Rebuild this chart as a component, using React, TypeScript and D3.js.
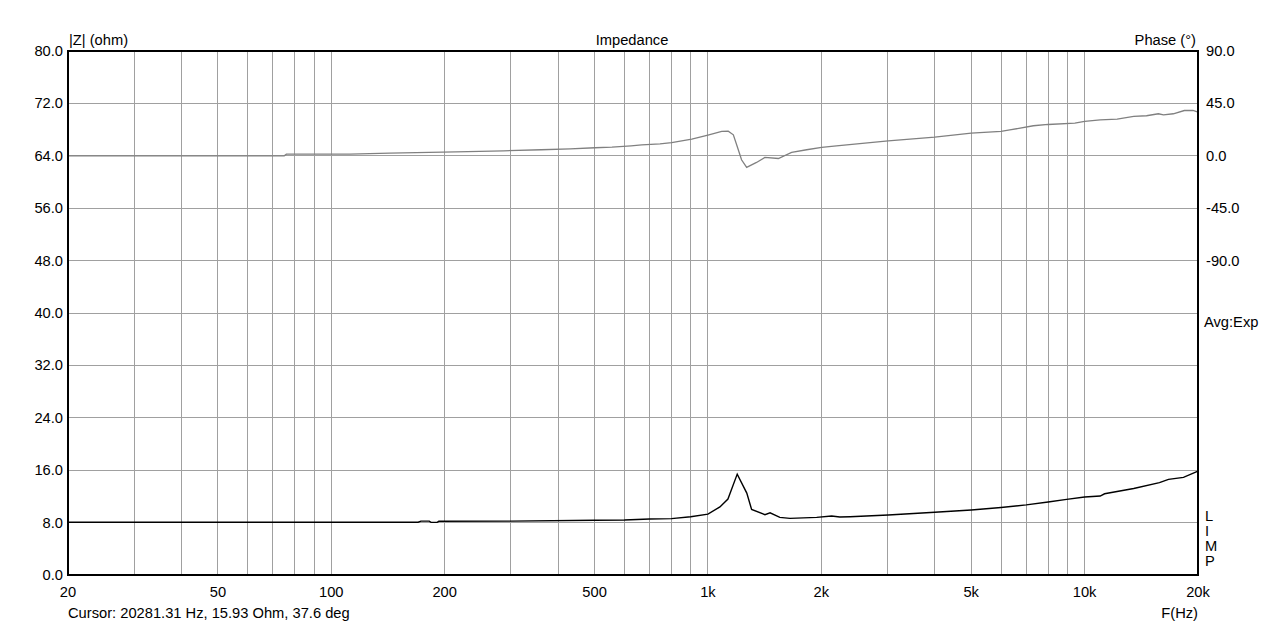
import React from "react";
import * as d3 from "d3";

const impFreq = [20, 50, 100, 150, 170, 173, 182, 184, 191, 193, 300, 500, 600, 700, 800, 900, 1000, 1076, 1130, 1196, 1268, 1306, 1417, 1462, 1552, 1651, 1944, 2130, 2240, 2383, 3010, 4000, 5000, 6000, 7000, 8000, 8960, 10000, 11000, 11300, 13500, 15800, 16700, 18300, 20000];
const impOhm = [8.05, 8.05, 8.05, 8.05, 8.05, 8.22, 8.22, 8.04, 8.04, 8.2, 8.22, 8.35, 8.4, 8.55, 8.6, 8.9, 9.3, 10.4, 11.6, 15.4, 12.5, 10.0, 9.2, 9.5, 8.8, 8.65, 8.8, 9.0, 8.85, 8.9, 9.16, 9.57, 9.92, 10.3, 10.7, 11.15, 11.55, 11.9, 12.06, 12.4, 13.2, 14.1, 14.6, 14.9, 15.85];

const phFreq = [20, 75, 76, 112, 143, 214, 287, 361, 431, 501, 556, 625, 667, 746, 801, 906, 1000, 1088, 1132, 1168, 1196, 1228, 1267, 1346, 1416, 1538, 1668, 1828, 2004, 2194, 3010, 4000, 5000, 6000, 6330, 7310, 8000, 9420, 10000, 11000, 12200, 13500, 14600, 15700, 16200, 17200, 18400, 19400, 20000];
const phDeg = [0, 0, 1.4, 1.4, 2.3, 3.4, 4.3, 5.2, 6.0, 6.9, 7.5, 8.6, 9.4, 10.3, 11.4, 14.3, 17.8, 20.9, 21.2, 18.0, 8.0, -3.4, -10.0, -5.7, -1.4, -2.3, 2.9, 5.2, 7.2, 8.6, 12.9, 16.0, 19.5, 20.9, 22.2, 25.8, 26.9, 28.1, 29.5, 30.9, 31.5, 33.8, 34.4, 36.1, 35.2, 36.1, 38.9, 38.9, 37.6];

const gridFreqs = [20, 30, 40, 50, 60, 70, 80, 90, 100, 200, 300, 400, 500, 600, 700, 800, 900, 1000, 2000, 3000, 4000, 5000, 6000, 7000, 8000, 9000, 10000, 20000];
const xTickVals = [20, 50, 100, 200, 500, 1000, 2000, 5000, 10000, 20000];
const xTickLabels = ["20", "50", "100", "200", "500", "1k", "2k", "5k", "10k", "20k"];
const zTicks = [0, 8, 16, 24, 32, 40, 48, 56, 64, 72, 80];
const phTicks = [90, 45, 0, -45, -90];

const W = 1266, H = 626;
const L = 68, R = 1198, T = 51, B = 575;
const FONT = "'Liberation Sans', Arial, sans-serif";
const FS = 14.7;

export default function App() {
  const x = d3.scaleLog().domain([20, 20000]).range([L, R]);
  const yZ = d3.scaleLinear().domain([0, 80]).range([B, T]);
  const yP = d3.scaleLinear().domain([-360, 90]).range([B, T]);

  const impLine = d3.line<number>().x((d, i) => x(impFreq[i])).y((d) => yZ(d))(impOhm) || "";
  const phLine = d3.line<number>().x((d, i) => x(phFreq[i])).y((d) => yP(d))(phDeg) || "";

  const limp = ["L", "I", "M", "P"];

  return (
    <svg width={W} height={H} style={{ position: "absolute", left: 0, top: 0, background: "#fff" }} fontFamily={FONT}>
      <rect x={0} y={0} width={W} height={H} fill="#fff" />
      {gridFreqs.map((f) => (
        <line key={"v" + f} x1={x(f)} x2={x(f)} y1={T} y2={B} stroke="#a0a0a0" strokeWidth={1} shapeRendering="crispEdges" />
      ))}
      {zTicks.map((z) => (
        <line key={"h" + z} x1={L} x2={R} y1={yZ(z)} y2={yZ(z)} stroke="#a0a0a0" strokeWidth={1} shapeRendering="crispEdges" />
      ))}
      <path d={phLine} fill="none" stroke="#808080" strokeWidth={1.3} />
      <path d={impLine} fill="none" stroke="#000" strokeWidth={1.4} />
      <rect x={L} y={T} width={R - L} height={B - T} fill="none" stroke="#000" strokeWidth={1.5} shapeRendering="crispEdges" />
      {zTicks.map((z) => (
        <text key={"zt" + z} x={63} y={yZ(z) + 5} textAnchor="end" fontSize={FS} fill="#000">{z.toFixed(1)}</text>
      ))}
      {phTicks.map((p) => (
        <text key={"pt" + p} x={1206} y={yP(p) + 5} textAnchor="start" fontSize={FS} fill="#000">{p.toFixed(1)}</text>
      ))}
      {xTickVals.map((f, i) => (
        <text key={"xt" + f} x={x(f)} y={597} textAnchor="middle" fontSize={FS} fill="#000">{xTickLabels[i]}</text>
      ))}
      <text x={69} y={45} fontSize={FS} fill="#000">|Z| (ohm)</text>
      <text x={632} y={45} fontSize={FS} textAnchor="middle" fill="#000">Impedance</text>
      <text x={1196} y={45} fontSize={FS} textAnchor="end" fill="#000">Phase (°)</text>
      <text x={1204} y={327} fontSize={FS} fill="#000">Avg:Exp</text>
      {limp.map((c, i) => (
        <text key={"l" + c} x={1205} y={521 + i * 15} fontSize={FS} fill="#000">{c}</text>
      ))}
      <text x={68} y={618} fontSize={FS} fill="#000">Cursor: 20281.31 Hz, 15.93 Ohm, 37.6 deg</text>
      <text x={1198} y={618} fontSize={FS} textAnchor="end" fill="#000">F(Hz)</text>
    </svg>
  );
}
